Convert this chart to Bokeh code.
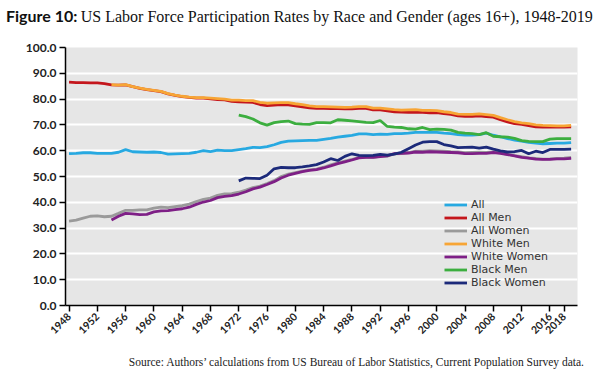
from bokeh.plotting import figure
from bokeh.models import Range1d, FixedTicker, Div, PrintfTickFormatter
from bokeh.layouts import column
from bokeh.embed import file_html
from bokeh.resources import INLINE
import math

years = list(range(1948, 2020))

all_rate = [58.9, 59.0, 59.2, 59.2, 59.0, 59.0, 59.0, 59.4, 60.4, 59.6,
            59.5, 59.4, 59.5, 59.3, 58.7, 58.8, 58.9, 59.0, 59.4, 60.0,
            59.6, 60.2, 60.0, 60.0, 60.4, 60.8, 61.3, 61.2, 61.6, 62.3,
            63.2, 63.7, 63.8, 63.9, 64.0, 64.0, 64.4, 64.8, 65.3, 65.6,
            65.9, 66.5, 66.5, 66.2, 66.4, 66.3, 66.6, 66.6, 66.8, 67.1,
            67.1, 67.1, 67.1, 66.8, 66.6, 66.2, 66.0, 66.0, 66.2, 66.8,
            66.0, 65.4, 64.7, 64.1, 63.7, 63.2, 62.9, 62.7, 62.8, 62.9,
            62.9, 63.1]

all_men = [86.6, 86.4, 86.4, 86.3, 86.3, 86.0, 85.5, 85.4, 85.5, 84.8,
           84.2, 83.7, 83.3, 82.9, 82.0, 81.4, 81.0, 80.7, 80.4, 80.4,
           80.1, 79.8, 79.7, 79.1, 78.9, 78.8, 78.7, 77.9, 77.5, 77.7,
           77.9, 77.8, 77.4, 77.0, 76.6, 76.4, 76.4, 76.3, 76.3, 76.2,
           76.2, 76.4, 76.4, 75.8, 75.8, 75.4, 75.1, 75.0, 74.9, 75.0,
           74.9, 74.7, 74.8, 74.4, 74.1, 73.5, 73.3, 73.3, 73.5, 73.2,
           73.0, 72.0, 71.2, 70.5, 70.2, 69.7, 69.2, 69.1, 69.2, 69.1,
           69.1, 69.2]

all_women = [32.7, 33.1, 33.9, 34.6, 34.7, 34.4, 34.6, 35.7, 36.9, 36.9,
             37.1, 37.1, 37.7, 38.1, 37.9, 38.3, 38.7, 39.3, 40.3, 41.1,
             41.6, 42.7, 43.3, 43.4, 43.9, 44.7, 45.7, 46.3, 47.3, 48.4,
             50.0, 50.9, 51.5, 52.1, 52.6, 52.9, 53.6, 54.5, 55.3, 56.0,
             56.6, 57.4, 57.5, 57.4, 57.8, 57.9, 58.8, 58.9, 59.3, 59.8,
             59.8, 60.0, 59.9, 59.8, 59.6, 59.5, 59.2, 59.3, 59.4, 59.3,
             59.5, 59.2, 58.6, 58.1, 57.7, 57.2, 57.0, 56.7, 56.8, 57.0,
             57.1, 57.4]

white_years = list(range(1954, 2020))
white_men = [85.6, 85.4, 85.6, 84.8, 84.3, 83.8, 83.4, 83.0, 82.1, 81.5,
             81.1, 80.8, 80.6, 80.6, 80.4, 80.2, 80.0, 79.6, 79.6, 79.4,
             79.4, 78.7, 78.4, 78.5, 78.6, 78.6, 78.2, 77.9, 77.4, 77.1,
             77.1, 77.0, 76.9, 76.8, 76.9, 77.1, 77.1, 76.5, 76.5, 76.2,
             75.9, 75.7, 75.8, 75.9, 75.6, 75.6, 75.5, 75.1, 74.8, 74.2,
             74.1, 74.1, 74.3, 74.0, 73.7, 72.8, 72.0, 71.3, 70.8, 70.5,
             70.0, 69.8, 69.7, 69.6, 69.6, 69.8]
white_women = [33.1, 34.6, 35.7, 35.5, 35.2, 35.3, 36.3, 36.7, 36.8, 37.2,
               37.5, 38.1, 39.2, 40.1, 40.7, 41.8, 42.3, 42.6, 43.2, 44.1,
               45.2, 45.9, 46.9, 48.0, 49.4, 50.5, 51.2, 51.9, 52.4, 52.7,
               53.3, 54.1, 55.0, 55.7, 56.4, 57.2, 57.4, 57.4, 57.7, 58.0,
               58.9, 59.0, 59.1, 59.5, 59.4, 59.6, 59.5, 59.4, 59.3, 59.2,
               58.9, 58.9, 59.0, 59.0, 59.3, 59.0, 58.5, 58.0, 57.4, 57.1,
               56.7, 56.6, 56.6, 56.8, 56.8, 57.0]

black_years = list(range(1972, 2020))
black_men = [73.8, 73.2, 72.3, 70.8, 69.9, 70.9, 71.3, 71.5, 70.5, 70.3,
             70.2, 70.9, 70.9, 70.8, 72.0, 71.8, 71.6, 71.3, 71.0, 70.9,
             71.7, 69.4, 69.1, 69.0, 68.5, 68.4, 69.0, 68.2, 68.4, 68.3,
             68.0, 67.1, 66.8, 66.6, 66.2, 67.0, 65.6, 65.4, 65.3, 64.8,
             63.9, 63.6, 63.5, 63.5, 64.5, 64.7, 64.7, 64.7]
black_women = [48.3, 49.4, 49.3, 49.2, 50.5, 53.0, 53.5, 53.4, 53.4, 53.7,
               54.1, 54.6, 55.6, 56.9, 56.2, 57.8, 58.8, 58.2, 58.1, 58.2,
               58.6, 58.3, 58.7, 59.4, 60.8, 62.2, 63.3, 63.5, 63.5, 62.4,
               61.9, 61.2, 61.3, 61.4, 61.0, 61.4, 60.6, 59.9, 59.5, 59.6,
               60.1, 58.8, 59.8, 59.3, 60.5, 60.5, 60.5, 60.6]

x_ticks = [1948, 1952, 1956, 1960, 1964, 1968, 1972, 1976, 1980, 1984, 1988,
           1992, 1996, 2000, 2004, 2008, 2012, 2016, 2018]
y_ticks = [0, 10, 20, 30, 40, 50, 60, 70, 80, 90, 100]

series = [
    ("All", years, all_rate, "#27a9e1"),
    ("All Men", years, all_men, "#c4161c"),
    ("All Women", years, all_women, "#9a9a9a"),
    ("White Men", white_years, white_men, "#f7a535"),
    ("White Women", white_years, white_women, "#7e1f86"),
    ("Black Men", black_years, black_men, "#3cae3f"),
    ("Black Women", black_years, black_women, "#1c2a7a"),
]

SANS = "Lato"

p = figure(width=590, height=324, output_backend="svg", toolbar_location=None,
           x_range=Range1d(1947.5, 2019.9), y_range=Range1d(0, 100),
           min_border_left=65, min_border_right=13, min_border_top=17,
           min_border_bottom=49)
p.background_fill_color = "#e6e6e6"
p.border_fill_color = "white"
p.outline_line_color = None

for name, xs, ys, color in series:
    p.line(xs, ys, line_width=2.8, color=color, legend_label=name)

p.xgrid.visible = False
p.ygrid.grid_line_color = "white"
p.ygrid.grid_line_width = 2
p.ygrid.ticker = FixedTicker(ticks=y_ticks)

p.yaxis.ticker = FixedTicker(ticks=y_ticks)
p.yaxis.formatter = PrintfTickFormatter(format="%.1f")
p.xaxis.ticker = FixedTicker(ticks=x_ticks)
p.xaxis.major_label_orientation = math.pi / 4
for ax in (p.xaxis, p.yaxis):
    ax.axis_line_color = "black"
    ax.axis_line_width = 1.5
    ax.major_tick_line_color = "black"
    ax.major_tick_line_width = 1.5
    ax.major_tick_out = 6
    ax.major_tick_in = 0
    ax.minor_tick_line_color = None
    ax.major_label_text_font = SANS
    ax.major_label_text_font_style = "bold"
    ax.major_label_text_color = "#222222"
p.yaxis.major_label_text_font_size = "12px"
p.xaxis.major_label_text_font_size = "10.5px"
p.yaxis.major_label_standoff = 3
p.xaxis.major_label_standoff = 3

lg = p.legend[0]
lg.location = (379, 16)
lg.padding = 0
lg.margin = 0
lg.spacing = 0
lg.border_line_color = None
lg.background_fill_alpha = 0
lg.label_text_font = "DejaVu Sans"
lg.label_text_font_size = "11px"
lg.label_text_color = "#333333"
lg.glyph_width = 23
lg.glyph_height = 13
lg.label_height = 13
lg.label_standoff = 4

title = Div(
    text=('<div style="padding:2px 0 0 6px;line-height:28px;white-space:nowrap;color:#111;">'
          '<span style="font-family:Lato;font-weight:bold;font-size:16px;">Figure 10:</span> '
          '<span style="font-family:\'Liberation Serif\';font-size:16px;">'
          'US Labor Force Participation Rates by Race and Gender (ages 16+), 1948-2019</span></div>'),
    width=590, height=30, margin=(0, 0, 0, 0))

source = Div(
    text=('<div style="width:584px;text-align:right;font-family:\'Liberation Serif\';'
          'font-size:11.5px;line-height:14px;color:#222;white-space:nowrap;">'
          'Source: Authors\u2019 calculations from US Bureau of Labor Statistics, '
          'Current Population Survey data.</div>'),
    width=590, height=14, margin=(0, 0, 0, 0))

layout = column(title, p, source, spacing=0)

open("out.html", "w").write(file_html(layout, INLINE))
